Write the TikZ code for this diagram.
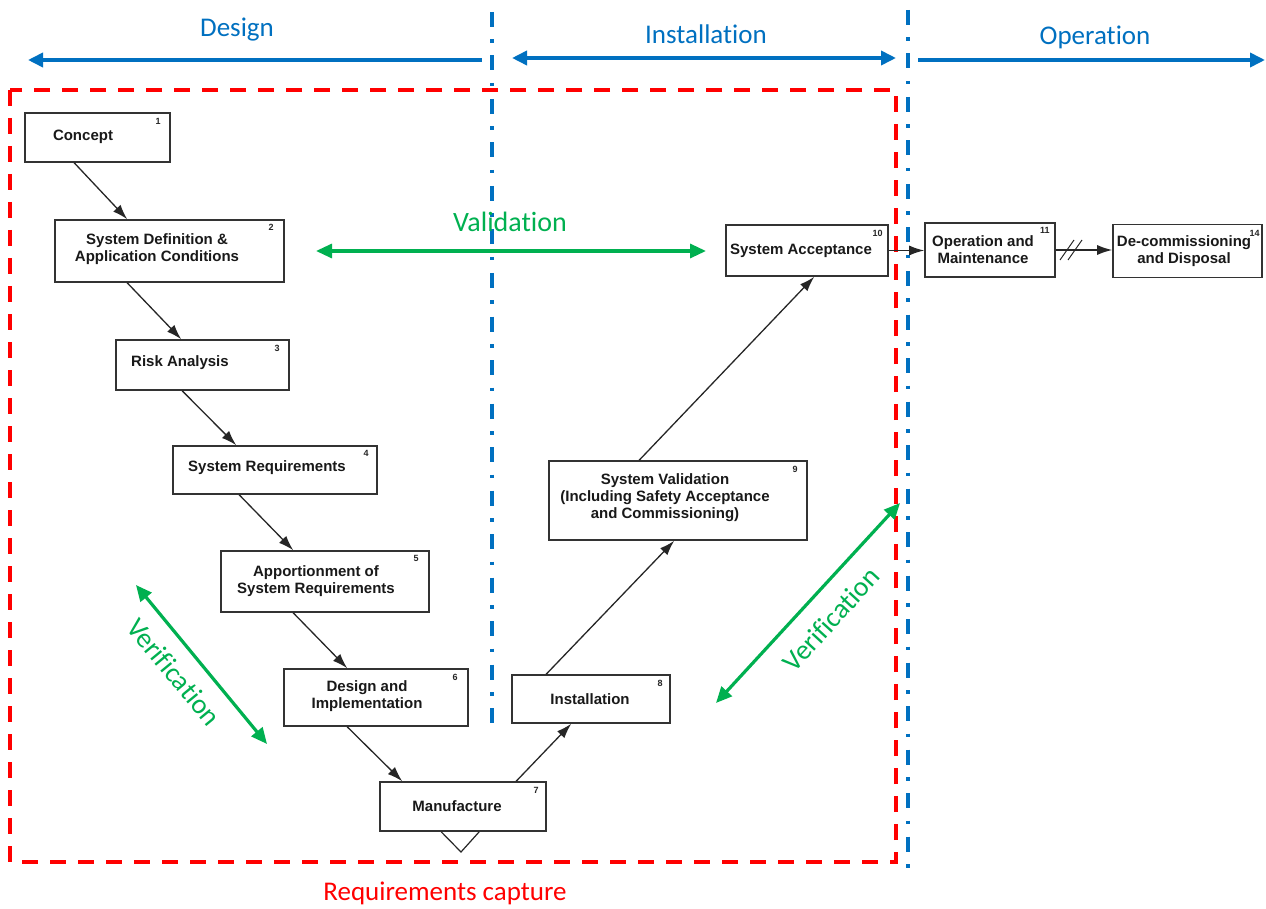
\documentclass[tikz,border=0pt]{standalone}
\usepackage{fontspec}
\setmainfont{Liberation Sans}
\newfontfamily\calfont[Ligatures=NoCommon]{Carlito}
\usetikzlibrary{arrows.meta}
\definecolor{cblue}{RGB}{0,112,192}
\definecolor{cgreen}{RGB}{0,176,80}
\definecolor{cred}{RGB}{255,0,0}
\begin{document}
\begin{tikzpicture}[x=1pt,y=-1pt,
 box/.style={draw=black!80, line width=1.6pt, fill=white, inner sep=0pt},
 btxt/.style={font=\bfseries\fontsize{15}{17}\selectfont, align=center, inner sep=0pt, text=black!90},
 num/.style={font=\bfseries\fontsize{9}{10}\selectfont, inner sep=0pt, text=black!85},
 conn/.style={draw=black!85, line width=1.3pt, -{Latex[length=15pt,width=10pt]}},
 phase/.style={draw=cblue, line width=3.6pt},
 btip/.tip={Triangle[length=15pt,width=14pt]},
 ptxt/.style={text=cblue, font=\calfont\fontsize{27}{30}\selectfont, inner sep=0pt},
 gtip/.tip={Triangle[length=16pt,width=14pt]},
 garr/.style={draw=cgreen, line width=3.2pt, {gtip}-{gtip}},
 gtxt/.style={text=cgreen, font=\calfont\fontsize{28}{30}\selectfont, inner sep=0pt},
 rtxt/.style={text=cred, font=\calfont\fontsize{27}{30}\selectfont, inner sep=0pt},
 phaseline/.style={draw=cblue, line width=3.8pt, dash pattern=on 15pt off 12.5pt on 3.5pt off 12.5pt},
 reqbox/.style={draw=cred, line width=3.6pt, dash pattern=on 16pt off 12pt}
]
\useasboundingbox (0,0) rectangle (1266,909);

% phase separators
\coordinate (s1t) at (492,12); \coordinate (s1b) at (492,732);
\coordinate (s2t) at (908,10); \coordinate (s2b) at (908,878);
\draw[phaseline] (s1t) -- (s1b);
\draw[phaseline] (s2t) -- (s2b);

% requirements capture frame
\coordinate (rq1) at (10,90); \coordinate (rq2) at (896,862);
\draw[reqbox] (rq1) rectangle (rq2);
\node[rtxt] (reqlbl) at (445,893) {Requirements capture};

% phase arrows
\coordinate (dL) at (28,60); \coordinate (dR) at (482,60);
\coordinate (iL) at (512,58); \coordinate (iR) at (896,58);
\coordinate (oL) at (918,60); \coordinate (oR) at (1265,60);
\draw[phase, {btip}-] (dL) -- (dR);
\draw[phase, {btip}-{btip}] (iL) -- (iR);
\draw[phase, -{btip}] (oL) -- (oR);
\node[ptxt] (designlbl) at (237,30) {Design};
\node[ptxt] (instlbl) at (706,34) {Installation};
\node[ptxt] (oplbl) at (1095,37) {Operation};

% boxes
\node[box, minimum width=145pt, minimum height=49pt] (n1) at (97.5,137.5) {};
\node[btxt] (t1) at (83,137) {Concept};
\node[num, anchor=north east] (k1) at ([xshift=-10pt,yshift=-6pt]n1.north east) {1};

\node[box, minimum width=229pt, minimum height=62pt] (n2) at (169.5,251) {};
\node[btxt] (t2) at (157,249) {System Definition \&\\Application Conditions};
\node[num, anchor=north east] (k2) at ([xshift=-11pt,yshift=-5pt]n2.north east) {2};

\node[box, minimum width=173pt, minimum height=50pt] (n3) at (202.5,365) {};
\node[btxt] (t3) at (180,363) {Risk Analysis};
\node[num, anchor=north east] (k3) at ([xshift=-10pt,yshift=-6pt]n3.north east) {3};

\node[box, minimum width=204pt, minimum height=48pt] (n4) at (275,470) {};
\node[btxt] (t4) at (267,468) {System Requirements};
\node[num, anchor=north east] (k4) at ([xshift=-9pt,yshift=-5pt]n4.north east) {4};

\node[box, minimum width=208pt, minimum height=61pt] (n5) at (325,581.5) {};
\node[btxt] (t5) at (316,581) {Apportionment of\\System Requirements};
\node[num, anchor=north east] (k5) at ([xshift=-11pt,yshift=-5pt]n5.north east) {5};

\node[box, minimum width=184pt, minimum height=57pt] (n6) at (376,697.5) {};
\node[btxt] (t6) at (367,696) {Design and\\Implementation};
\node[num, anchor=north east] (k6) at ([xshift=-11pt,yshift=-6pt]n6.north east) {6};

\node[box, minimum width=166pt, minimum height=49pt] (n7) at (463,806.5) {};
\node[btxt] (t7) at (457,806) {Manufacture};
\node[num, anchor=north east] (k7) at ([xshift=-8pt,yshift=-6pt]n7.north east) {7};

\node[box, minimum width=158pt, minimum height=48pt] (n8) at (591,699) {};
\node[btxt] (t8) at (590,699) {Installation};
\node[num, anchor=north east] (k8) at ([xshift=-8pt,yshift=-6pt]n8.north east) {8};

\node[box, minimum width=258pt, minimum height=79pt] (n9) at (678,500.5) {};
\node[btxt] (t9) at (665,498) {System Validation\\(Including Safety Acceptance\\and Commissioning)};
\node[num, anchor=north east] (k9) at ([xshift=-10pt,yshift=-6pt]n9.north east) {9};

\node[box, minimum width=162pt, minimum height=51pt] (n10) at (807,250.5) {};
\node[btxt] (t10) at (801,251) {System Acceptance};
\node[num, anchor=north east] (k10) at ([xshift=-6pt,yshift=-6pt]n10.north east) {10};

\node[box, minimum width=130pt, minimum height=54pt] (n11) at (990,250) {};
\node[btxt] (t11) at (983,250) {Operation and\\Maintenance};
\node[num, anchor=north east] (k11) at ([xshift=-6pt,yshift=-5pt]n11.north east) {11};

\node[box, minimum width=149pt, minimum height=53pt] (n14) at (1187.5,251) {};
\node[btxt] (t14) at (1184,251) {De-commissioning\\and Disposal};
\node[num, anchor=north east] (k14) at ([xshift=-3pt,yshift=-6pt]n14.north east) {14};

% connectors
\draw[conn] ([xshift=50pt]n1.south west) -- ([xshift=73pt]n2.north west);
\draw[conn] ([xshift=73pt]n2.south west) -- ([xshift=66pt]n3.north west);
\draw[conn] ([xshift=67pt]n3.south west) -- ([xshift=64pt]n4.north west);
\draw[conn] ([xshift=67pt]n4.south west) -- ([xshift=73pt]n5.north west);
\draw[conn] ([xshift=73pt]n5.south west) -- ([xshift=64pt]n6.north west);
\draw[conn] ([xshift=64pt]n6.south west) -- ([xshift=23pt]n7.north west);
\draw[conn] ([xshift=137pt]n7.north west) -- ([xshift=60pt]n8.south west);
\draw[conn] ([xshift=35pt]n8.north west) -- ([xshift=126pt]n9.south west);
\draw[conn] ([xshift=91pt]n9.north west) -- ([xshift=89pt]n10.south west);
\draw[conn] (n10.east) -- (n10.east -| n11.west);
\draw[conn] (n11.east) -- (n11.east -| n14.west);
\coordinate (br1a) at (1060,260); \coordinate (br1b) at (1074,240);
\coordinate (br2a) at (1068,260); \coordinate (br2b) at (1082,240);
\draw[draw=black!85, line width=1pt] (br1a) -- (br1b) (br2a) -- (br2b);
% V mark under Manufacture
\coordinate (vtip) at (461,852);
\draw[draw=black!85, line width=1.2pt] ([xshift=62pt]n7.south west) -- (vtip) -- ([xshift=100pt]n7.south west);

% validation / verification
\coordinate (va1) at (316,251); \coordinate (va2) at (706,251);
\draw[garr] (va1) -- (va2);
\node[gtxt] (valbl) at (510,222) {Validation};
\coordinate (vl1) at (136,585); \coordinate (vl2) at (267,744);
\draw[garr] (vl1) -- (vl2);
\node[gtxt, rotate=-50.5] (vllbl) at (174,672) {Verification};
\coordinate (vr1) at (716,703); \coordinate (vr2) at (900,503);
\draw[garr] (vr1) -- (vr2);
\node[gtxt, rotate=47.5] (vrlbl) at (831,619) {Verification};
\end{tikzpicture}
\end{document}
